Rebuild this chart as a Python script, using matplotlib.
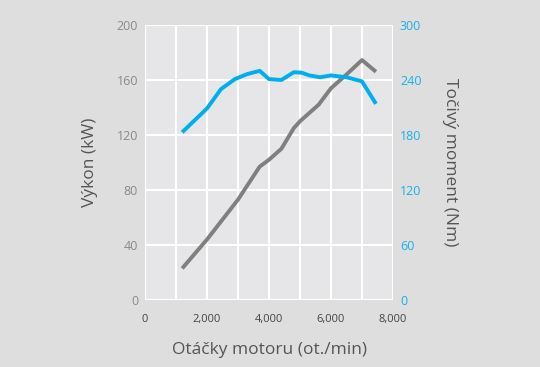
import matplotlib
matplotlib.use("Agg")
import matplotlib.pyplot as plt
from matplotlib.ticker import MultipleLocator

rpm_power = [1200, 2000, 3000, 3700, 4000, 4400, 4800, 5000, 5600, 6000, 6500, 7000, 7450]
power_kw = [23, 44, 73, 97, 102, 110, 125, 130, 142, 154, 164, 174.5, 166]

rpm_torque = [1200, 2000, 2450, 2900, 3300, 3700, 4000, 4400, 4800, 5050, 5300, 5650, 6000, 6500, 7000, 7450]
torque_nm = [183, 209, 230, 241, 246.5, 250, 241, 240, 248.5, 248, 245, 243, 245, 243, 238.5, 214]

x_ticks = [0, 2000, 4000, 6000, 8000]
left_ticks = [0, 40, 80, 120, 160, 200]
right_ticks = [0, 60, 120, 180, 240, 300]

font = "Open Sans"
plt.rcParams['font.family'] = [font, 'DejaVu Sans']

fig = plt.figure(figsize=(5.4, 3.67), dpi=100, facecolor="#dedede")
ax = fig.add_axes([145/540, 67/367, 248/540, 275/367])
ax.set_facecolor("#e6e6e8")
ax2 = ax.twinx()

ax.set_xlim(0, 8000)
ax.set_ylim(0, 200)
ax2.set_ylim(0, 300)

ax.xaxis.set_minor_locator(MultipleLocator(1000))
ax.set_xticks(x_ticks)
ax.set_xticklabels([f"{v:,}" for v in x_ticks])
ax.set_yticks(left_ticks)
ax2.set_yticks(right_ticks)

ax.grid(True, which="both", axis="x", color="white", lw=1.5)
ax.grid(True, which="major", axis="y", color="white", lw=1.5)
ax.set_axisbelow(True)

for a in (ax, ax2):
    for s in a.spines.values():
        s.set_visible(False)

ax.tick_params(axis="x", which="both", length=0, pad=10, labelsize=8, labelcolor="#444444")
ax.tick_params(axis="y", length=0, pad=5, labelsize=9, labelcolor="#8a8a8a")
ax2.tick_params(axis="y", length=0, pad=5, labelsize=9, labelcolor="#1ab0e8")

ax.plot(rpm_power, power_kw, color="#7f7f7f", lw=2.8, solid_capstyle="butt", zorder=3)
ax2.plot(rpm_torque, torque_nm, color="#00aeef", lw=2.8, solid_capstyle="butt", zorder=3)

ax.set_xlabel("Otáčky motoru (ot./min)", fontsize=12.5, color="#555555", va="center")
ax.set_ylabel("Výkon (kW)", fontsize=12.5, color="#555555", va="center")
ax2.set_ylabel("Točivý moment (Nm)", fontsize=12.5, color="#555555", rotation=270, va="center")
ax.xaxis.set_label_coords(0.5, -50/275)
ax.yaxis.set_label_coords(-55/248, 0.5)
ax2.yaxis.set_label_coords(57/248 + 1, 0.5)

fig.savefig("out.png", dpi=100, facecolor=fig.get_facecolor())
